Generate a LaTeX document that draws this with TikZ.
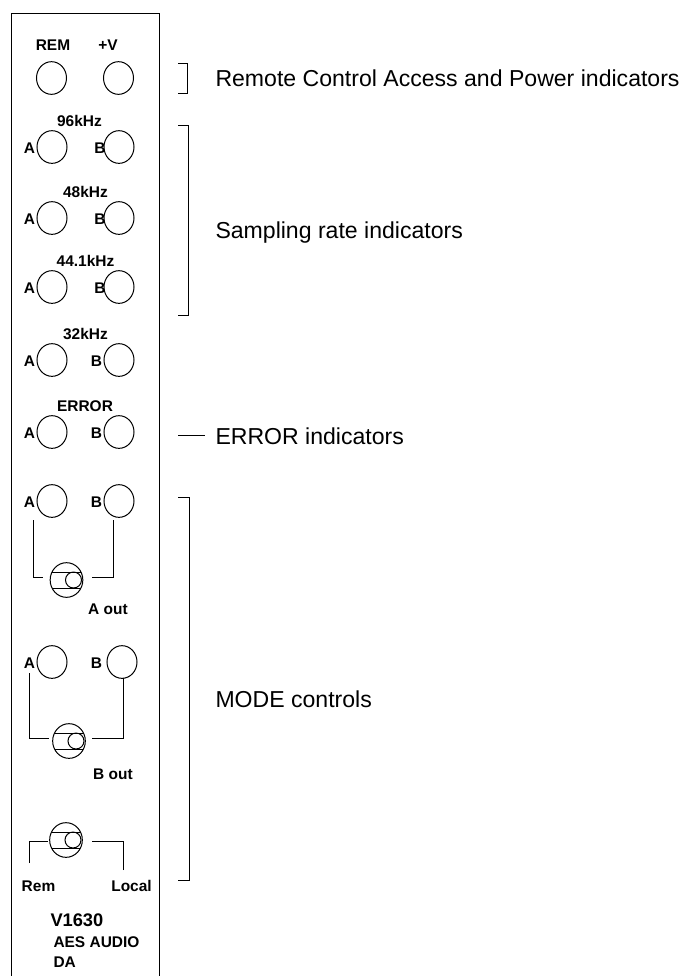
\documentclass[tikz,border=0pt]{standalone}
\usepackage{fontspec}
\setmainfont{Liberation Sans}
\newfontfamily\pbf{Liberation Sans Bold}
\usetikzlibrary{shapes.geometric}
\begin{document}
\begin{tikzpicture}[x=0.75pt,y=-0.75pt, line width=0.75pt,
  led/.style={ellipse, draw, minimum width=22.5pt, minimum height=24.5pt, inner sep=0pt},
  swsym/.style={ellipse, draw, minimum width=24.5pt, minimum height=26pt, inner sep=0pt,
    path picture={
      \draw ([yshift=6pt]path picture bounding box.west) -- ([yshift=6pt]path picture bounding box.east);
      \draw ([yshift=-6pt]path picture bounding box.west) -- ([yshift=-6pt]path picture bounding box.east);
      \draw ([xshift=5.25pt]path picture bounding box.center) circle[radius=6pt];
    }},
  lbl/.style={font=\pbf\fontsize{11.6}{13}\selectfont, inner sep=0pt, anchor=base},
  lblw/.style={font=\pbf\fontsize{11.6}{13}\selectfont, inner sep=0pt, anchor=base west},
  bigt/.style={font=\fontsize{17.3}{20}\selectfont, inner sep=0pt, anchor=base west},
]
\useasboundingbox (0,0) rectangle (684,976);

% panel
\draw (11,976) -- (11,13) -- (159,13) -- (159,976);

% REM / +V
\node[lbl] (tREM) at (53,50) {REM};
\node[lbl] (tPV) at (108,50) {+V};
\node[led] (rem) at (51.5,78) {};
\node[led] (pv) at (118.5,78) {};

% indicator rows
\foreach \n/\cy/\t/\tx/\bx in {r96/147/96kHz/79.5/100, r48/218/48kHz/85.5/100, r44/287/44.1kHz/85.5/100, r32/360/32kHz/85.5/96.5, rer/432/ERROR/85/96.5}{
  \node[lbl] (\n T) at (\tx,\cy-20.5) {\t};
  \node[led] (\n A) at (52,\cy) {};
  \node[led] (\n B) at (119,\cy) {};
  \node[lbl] (\n LA) at (29.5,\cy+6) {A};
  \node[lbl] (\n LB) at (\bx,\cy+6) {B};
}

% MODE: A out
\node[led] (m1A) at (52,501) {};
\node[led] (m1B) at (119,501) {};
\node[lbl] (m1LA) at (29.5,507) {A};
\node[lbl] (m1LB) at (96.5,507) {B};
\node[swsym] (sw1) at (66.5,580) {};
\coordinate (s1a) at (33,520);
\coordinate (s1ae) at (43,577);
\coordinate (s1b) at (113,520);
\coordinate (s1be) at (92,577);
\draw (s1a) |- (s1ae);
\draw (s1b) |- (s1be);
\node[lbl] (tAout) at (108,614) {A out};

% MODE: B out
\node[led] (m2A) at (52,662) {};
\node[led] (m2B) at (122,662) {};
\node[lbl] (m2LA) at (29.5,668) {A};
\node[lbl] (m2LB) at (96.5,668) {B};
\node[swsym] (sw2) at (69,741) {};
\coordinate (s2a) at (29,673);
\coordinate (s2ae) at (49,738);
\coordinate (s2b) at (123,678);
\coordinate (s2be) at (92,738);
\draw (s2a) |- (s2ae);
\draw (s2b) |- (s2be);
\node[lbl] (tBout) at (113,779) {B out};

% Rem / Local
\node[swsym] (sw3) at (66,840) {};
\coordinate (s3a) at (29,863);
\coordinate (s3ae) at (48,841);
\coordinate (s3b) at (123,870);
\coordinate (s3be) at (92,841);
\draw (s3a) |- (s3ae);
\draw (s3b) |- (s3be);
\node[lbl] (tRem) at (38.5,891) {Rem};
\node[lbl] (tLocal) at (131.5,891) {Local};

% name
\node[lblw, font=\pbf\fontsize{13.7}{15}\selectfont] (tV) at (50,926) {V1630};
\node[lblw] (tAES) at (53,947) {AES AUDIO};
\node[lblw] (tDA) at (53,967) {DA};

% right side brackets and texts
\draw (178,63) -- (187,63) -- (187,93) -- (178,93);
\draw (178,125) -- (188,125) -- (188,315) -- (178,315);
\draw (178,435) -- (205,435);
\draw (178,497) -- (189,497) -- (189,880) -- (178,880);

\node[bigt] (t1) at (215,86) {Remote Control Access and Power indicators};
\node[bigt] (t2) at (215,238) {Sampling rate indicators};
\node[bigt] (t3) at (215,444) {ERROR indicators};
\node[bigt] (t4) at (215,707) {MODE controls};
\end{tikzpicture}
\end{document}
